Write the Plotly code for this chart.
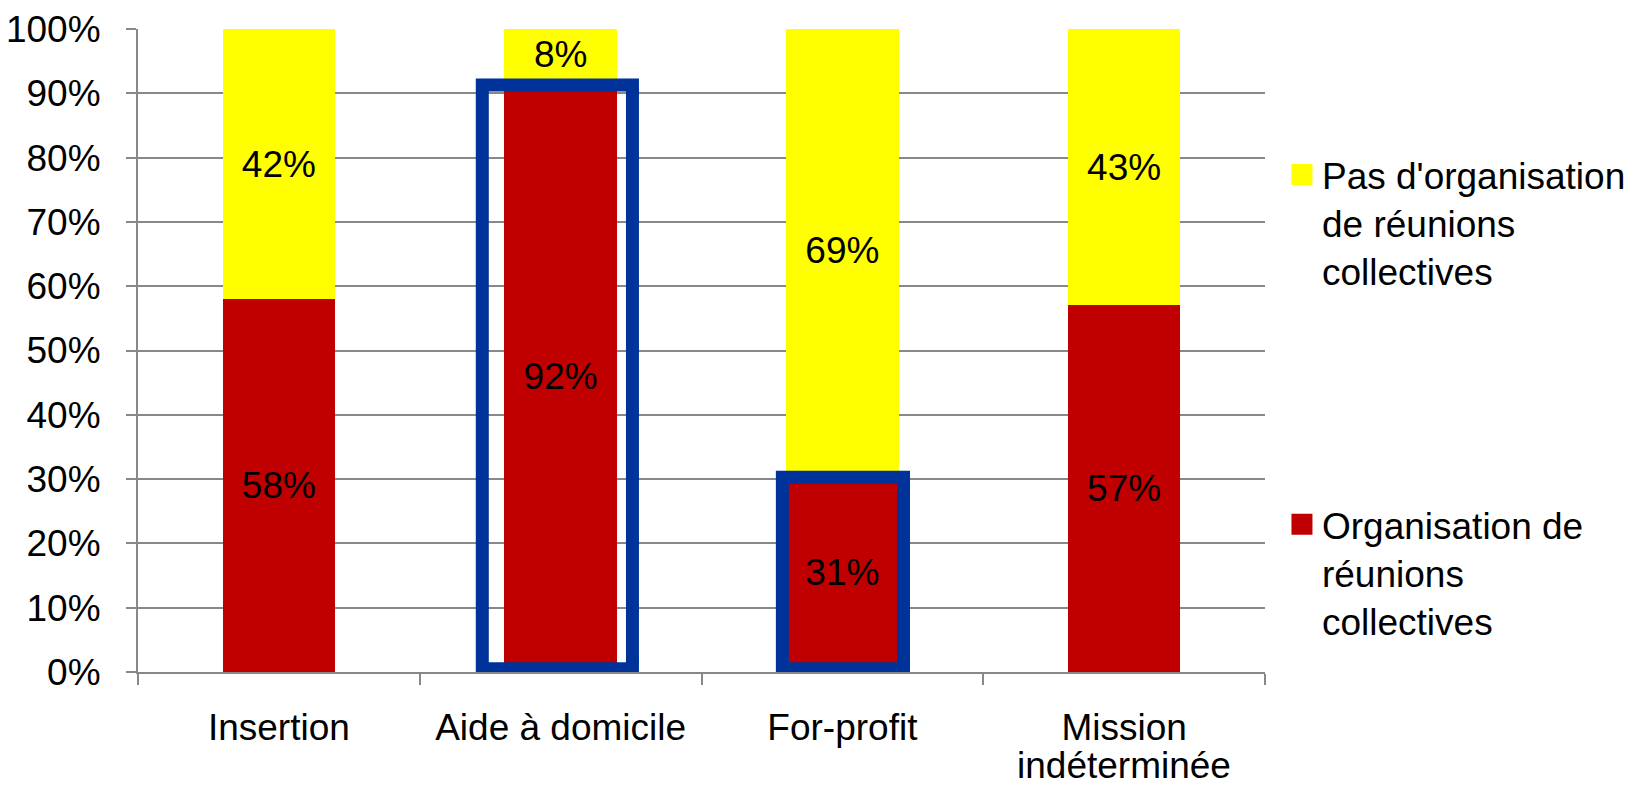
import plotly.graph_objects as go

categories = ["Insertion", "Aide à domicile", "For-profit", "Mission"]
category_second_line = {"Mission": "indéterminée"}
organisation = [58, 92, 31, 57]
pas_organisation = [42, 8, 69, 43]
name_org = "Organisation de<br>réunions<br>collectives"
name_pas = "Pas d'organisation<br>de réunions<br>collectives"
y_ticks = [0, 10, 20, 30, 40, 50, 60, 70, 80, 90, 100]
# highlighted categories (index, left pad, right pad in category units)
highlights = [(1, 0.278, 0.255), (2, 0.213, 0.217)]

FONT = "Liberation Sans, Arial, sans-serif"
FS = 37
RED = "#C00000"
YELLOW = "#FFFF00"
BLUE = "#003399"
GRID = "#888888"

fig = go.Figure()
fig.add_trace(go.Bar(
    x=categories, y=organisation, name=name_org, marker=dict(color=RED, line=dict(width=0)),
    text=[f"{v}%" for v in organisation], textposition="inside", insidetextanchor="middle",
    textangle=0, constraintext="none", textfont=dict(size=FS, color="black", family=FONT),
    showlegend=False, hoverinfo="skip",
))
fig.add_trace(go.Bar(
    x=categories, y=pas_organisation, name=name_pas, marker=dict(color=YELLOW, line=dict(width=0)),
    text=[f"{v}%" for v in pas_organisation], textposition="inside", insidetextanchor="middle",
    textangle=0, constraintext="none", textfont=dict(size=FS, color="black", family=FONT),
    showlegend=False, hoverinfo="skip",
))
# legend entries (square swatches)
fig.add_trace(go.Scatter(x=[None], y=[None], mode="markers", name=name_pas,
                         marker=dict(symbol="square", size=19, color=YELLOW,
                                     line=dict(width=5, color=YELLOW)), legend="legend"))
fig.add_trace(go.Scatter(x=[None], y=[None], mode="markers", name=name_org,
                         marker=dict(symbol="square", size=19, color=RED,
                                     line=dict(width=5, color=RED)), legend="legend2"))

for idx, lp, rp in highlights:
    fig.add_shape(type="rect", xref="x", yref="y",
                  x0=idx - lp, x1=idx + rp, y0=0.5, y1=organisation[idx] - 0.7,
                  line=dict(color=BLUE, width=13), fillcolor="rgba(0,0,0,0)", layer="above")

# second line of the wrapped category label
for cat, txt in category_second_line.items():
    fig.add_annotation(x=cat, xref="x", y=-0.18, yref="paper", yanchor="bottom",
                       height=36, valign="bottom",
                       text=txt, showarrow=False, font=dict(size=FS, family=FONT, color="black"))

fig.update_layout(
    width=1631, height=786,
    barmode="stack", bargap=0.6,
    plot_bgcolor="white", paper_bgcolor="white",
    margin=dict(l=138, r=366, t=29, b=114),
    font=dict(family=FONT, size=FS, color="black"),
    showlegend=True,
    legend=dict(xref="container", yref="container", x=0.786, y=0.817, xanchor="left", yanchor="top",
                valign="top", itemsizing="trace", font=dict(size=FS, family=FONT),
                bgcolor="rgba(0,0,0,0)"),
    legend2=dict(xref="container", yref="container", x=0.786, y=0.372, xanchor="left", yanchor="top",
                 valign="top", itemsizing="trace", font=dict(size=FS, family=FONT),
                 bgcolor="rgba(0,0,0,0)"),
)
fig.update_xaxes(
    showline=True, linecolor=GRID, linewidth=2, automargin=False,
    ticks="outside", tickson="boundaries", ticklen=11, tickcolor=GRID, tickwidth=2,
    tickfont=dict(size=FS, family=FONT), ticklabelstandoff=22, showgrid=False,
)
fig.update_yaxes(
    range=[0, 100], tickvals=y_ticks, ticktext=[f"{v}%" for v in y_ticks], automargin=False,
    showline=True, linecolor=GRID, linewidth=2,
    showgrid=True, gridcolor=GRID, gridwidth=2,
    ticks="outside", ticklen=10, tickcolor=GRID, tickwidth=2,
    tickfont=dict(size=FS, family=FONT), ticklabelstandoff=18, zeroline=False,
)

fig.write_html("out.html")
